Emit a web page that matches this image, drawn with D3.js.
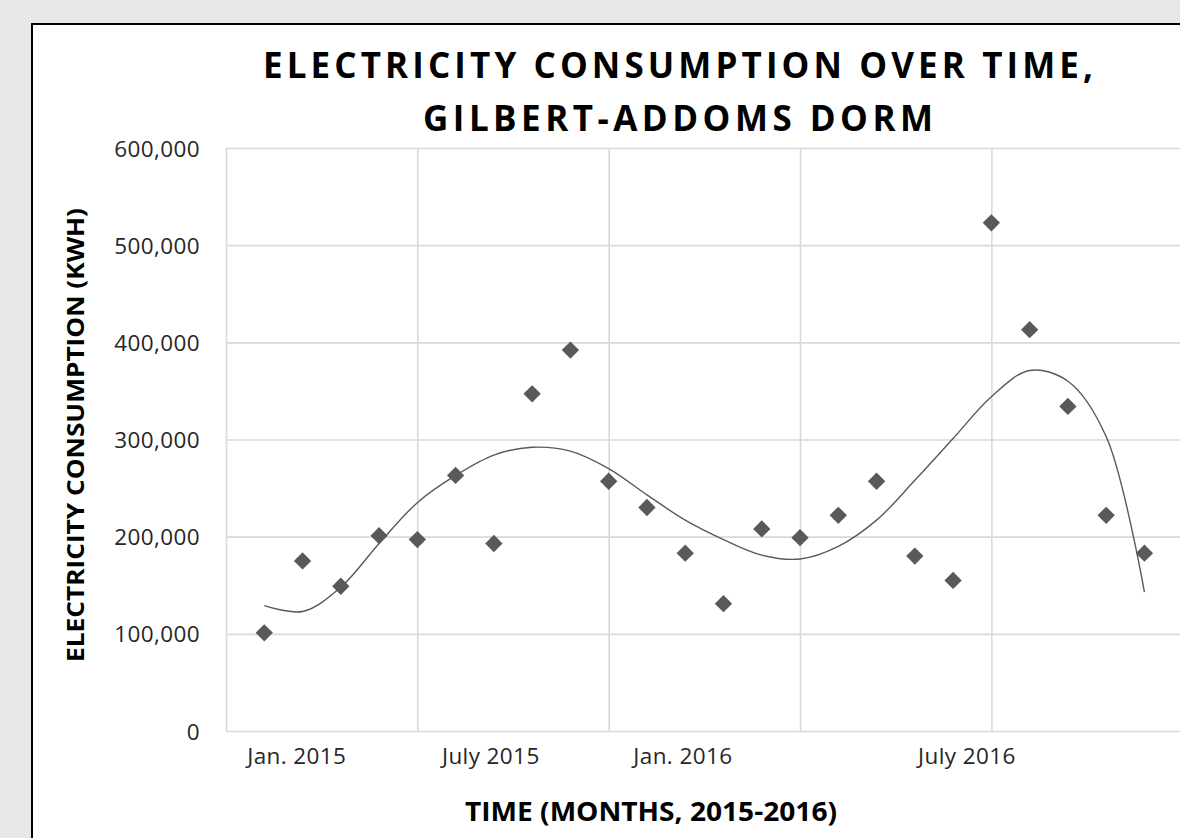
<!DOCTYPE html>
<html>
<head>
<meta charset="utf-8">
<script src="https://cdn.jsdelivr.net/npm/d3@7"></script>
<style>
  body { margin: 0; background: #e8e8e8; overflow: hidden; }
  svg { display: block; }
</style>
</head>
<body>
<div id="chart"></div>
<script>
// month index (1 = Jan. 2015 ... 24 = Dec. 2016)
var months = d3.range(1, 25);
// measured consumption, kWh
var consumption = [101000, 175000, 149000, 201000, 197000, 263000, 193000, 347000,
    392000, 257000, 230000, 183000, 131000, 208000, 199000, 222000,
    257000, 180000, 155000, 523000, 413000, 334000, 222000, 183000];
// polynomial trendline
var trend = [129000, 123000, 148000, 193000, 235000, 263000, 284000, 292000,
    288000, 270000, 243000, 217000, 197000, 181000, 177000, 190000,
    217000, 258000, 301000, 344000, 371000, 360000, 303000, 143000];
var yTicks = [0, 100000, 200000, 300000, 400000, 500000, 600000];
var xGrid = [0, 5, 10, 15, 20, 25];
var xLabels = ["Jan. 2015", "July 2015", "Jan. 2016", "July 2016"];
var xLabelAt = [1.85, 6.92, 11.94, 19.36];

var W = 1180, H = 838;
var margin = {top: 148, left: 226, bottom: 107};
var plotW = 1182.7 - margin.left,
    plotH = H - margin.top - margin.bottom;

var svg = d3.select("#chart")
    .append("svg")
    .attr("width", W)
    .attr("height", H);

// chart box (only top and left edges are in view)
svg.append("rect")
    .attr("x", 32).attr("y", 24)
    .attr("width", W).attr("height", H)
    .attr("fill", "#fff");
svg.append("path")
    .attr("d", "M32," + H + "V24H" + W)
    .attr("fill", "none")
    .attr("stroke", "#000")
    .attr("stroke-width", 2);

var font = "'Open Sans', sans-serif";

// title
var title = svg.append("g")
    .attr("font-family", font)
    .attr("font-weight", "bold")
    .attr("font-size", 35)
    .attr("fill", "#000")
    .attr("text-anchor", "middle");
title.append("text").attr("x", 678).attr("y", 78)
    .attr("textLength", 830).attr("lengthAdjust", "spacing")
    .text("ELECTRICITY CONSUMPTION OVER TIME,");
title.append("text").attr("x", 678).attr("y", 131)
    .attr("textLength", 510).attr("lengthAdjust", "spacing")
    .text("GILBERT-ADDOMS DORM");

var g = svg.append("g")
    .attr("transform", "translate(" + margin.left + "," + margin.top + ")");

var x = d3.scaleLinear().domain([0, 25]).range([0, plotW]);
var y = d3.scaleLinear().domain([0, 600000]).range([plotH, 0]);

// horizontal grid + y labels
var yAxis = g.append("g")
    .call(d3.axisLeft(y).tickValues(yTicks).tickSize(-plotW).tickPadding(26)
        .tickFormat(d3.format(",")));
yAxis.select(".domain").remove();
yAxis.selectAll("line").attr("stroke", "#d9d9d9").attr("stroke-width", 1.6);
yAxis.selectAll("text")
    .attr("font-family", font)
    .attr("font-size", 22.5)
    .attr("letter-spacing", 0.4)
    .attr("fill", "#262626")
    .attr("dy", "0.36em");

// vertical grid
var xAxis = g.append("g")
    .attr("transform", "translate(0," + plotH + ")")
    .call(d3.axisBottom(x).tickValues(xGrid).tickSize(-plotH).tickFormat(""));
xAxis.select(".domain").remove();
xAxis.selectAll("line").attr("stroke", "#d9d9d9").attr("stroke-width", 1.6);

// x labels
g.selectAll(".xlab")
    .data(xLabels)
    .enter()
    .append("text")
    .attr("class", "xlab")
    .attr("x", function(d, i) { return x(xLabelAt[i]); })
    .attr("y", plotH + 33)
    .attr("text-anchor", "middle")
    .attr("font-family", font)
    .attr("font-size", 22.5)
    .attr("letter-spacing", 0.4)
    .attr("fill", "#262626")
    .text(function(d) { return d; });

// trendline
var line = d3.line()
    .x(function(d, i) { return x(months[i]); })
    .y(function(d) { return y(d); })
    .curve(d3.curveCatmullRom.alpha(0.5));
g.append("path")
    .datum(trend)
    .attr("d", line)
    .attr("fill", "none")
    .attr("stroke", "#595959")
    .attr("stroke-width", 1.4);

// points
var diamond = d3.symbol().type(d3.symbolSquare).size(150);
g.selectAll(".pt")
    .data(consumption)
    .enter()
    .append("path")
    .attr("class", "pt")
    .attr("d", diamond)
    .attr("transform", function(d, i) {
        return "translate(" + x(months[i]) + "," + y(d) + ") rotate(45)";
    })
    .attr("fill", "#595959");

// axis titles
svg.append("text")
    .attr("transform", "translate(84,435) rotate(-90)")
    .attr("text-anchor", "middle")
    .attr("font-family", font)
    .attr("font-weight", "bold")
    .attr("font-size", 24)
    .attr("textLength", 454).attr("lengthAdjust", "spacingAndGlyphs")
    .attr("fill", "#000")
    .text("ELECTRICITY CONSUMPTION (KWH)");

svg.append("text")
    .attr("x", 651)
    .attr("y", 821)
    .attr("text-anchor", "middle")
    .attr("font-family", font)
    .attr("font-weight", "bold")
    .attr("font-size", 26)
    .attr("textLength", 372).attr("lengthAdjust", "spacingAndGlyphs")
    .attr("fill", "#000")
    .text("TIME (MONTHS, 2015-2016)");
</script>
</body>
</html>
